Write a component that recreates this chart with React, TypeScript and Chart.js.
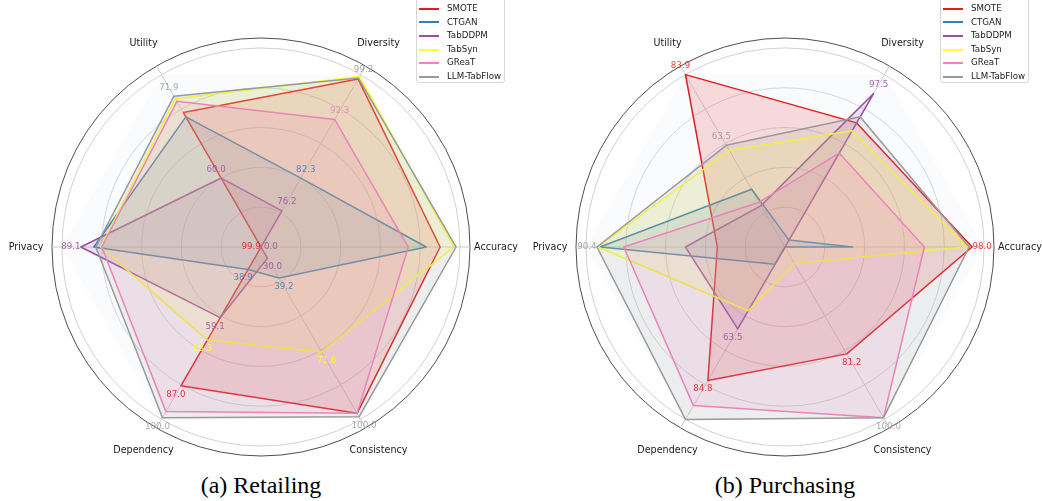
import React, { useEffect, useRef } from 'react';
import { Chart, registerables } from 'chart.js';

Chart.register(...registerables);

// Axes in clockwise order starting at the right (Accuracy)
const axes = ['Accuracy', 'Consistency', 'Dependency', 'Privacy', 'Utility', 'Diversity'];
const methods = ['SMOTE', 'CTGAN', 'TabDDPM', 'TabSyn', 'GReaT', 'LLM-TabFlow'];
const methodColors = ['#e41a1c', '#377eb8', '#984ea3', '#ffff33', '#f781bf', '#999999'];
const gridValues = [0, 0.2, 0.4, 0.6, 0.8, 1.0, 1.05];
const rMax = 1.05;

// (a) Retailing — normalised radial values, order: Accuracy, Consistency, Dependency, Privacy, Utility, Diversity
const retailSmote = [0.9, 0.965, 0.805, 0.0, 0.78, 0.975];
const retailCtgan = [0.83, 0.18, 0.13, 0.84, 0.755, 0.4];
const retailTabddpm = [0.0, 0.065, 0.41, 0.905, 0.4, 0.21];
const retailTabsyn = [0.97, 0.61, 0.54, 0.805, 0.86, 0.99];
const retailGreat = [0.74, 0.965, 0.955, 0.8, 0.845, 0.74];
const retailTabflow = [0.98, 0.985, 0.99, 0.83, 0.875, 0.98];

// (b) Purchasing
const purchSmote = [0.94, 0.62, 0.775, 0.34, 1.0, 0.72];
const purchCtgan = [0.34, 0.0, 0.1, 0.93, 0.335, 0.04];
const purchTabddpm = [0.0, 0.0, 0.475, 0.5, 0.24, 0.89];
const purchTabsyn = [0.915, 0.096, 0.37, 0.94, 0.56, 0.675];
const purchGreat = [0.7, 0.99, 0.92, 0.81, 0.26, 0.545];
const purchTabflow = [0.925, 0.99, 1.0, 0.945, 0.59, 0.755];

// Value annotations: [method, axis, raw value text]
const retailNotes: [string, string, string][] = [
  ['LLM-TabFlow', 'Utility', '71.9'],
  ['LLM-TabFlow', 'Diversity', '99.2'],
  ['GReaT', 'Diversity', '92.3'],
  ['CTGAN', 'Diversity', '82.3'],
  ['TabDDPM', 'Diversity', '76.2'],
  ['TabDDPM', 'Utility', '60.0'],
  ['SMOTE', 'Privacy', '99.9'],
  ['TabDDPM', 'Accuracy', '0.0'],
  ['TabDDPM', 'Privacy', '89.1'],
  ['TabDDPM', 'Consistency', '30.0'],
  ['CTGAN', 'Dependency', '38.9'],
  ['CTGAN', 'Consistency', '39.2'],
  ['TabDDPM', 'Dependency', '59.1'],
  ['TabSyn', 'Dependency', '68.3'],
  ['TabSyn', 'Consistency', '71.6'],
  ['SMOTE', 'Dependency', '87.0'],
  ['LLM-TabFlow', 'Dependency', '100.0'],
  ['LLM-TabFlow', 'Consistency', '100.0'],
];

const purchNotes: [string, string, string][] = [
  ['SMOTE', 'Utility', '83.9'],
  ['LLM-TabFlow', 'Utility', '63.5'],
  ['TabDDPM', 'Diversity', '97.5'],
  ['LLM-TabFlow', 'Privacy', '90.4'],
  ['SMOTE', 'Accuracy', '98.0'],
  ['TabDDPM', 'Dependency', '63.5'],
  ['SMOTE', 'Consistency', '81.2'],
  ['SMOTE', 'Dependency', '84.8'],
  ['LLM-TabFlow', 'Consistency', '100.0'],
];

const backgroundRing = [1, 1, 1, 1, 1, 1];

function rgba(hex: string, a: number) {
  const n = parseInt(hex.slice(1), 16);
  return `rgba(${(n >> 16) & 255},${(n >> 8) & 255},${n & 255},${a})`;
}

function makeAnnotate(notes: [string, string, string][]) {
  return {
    id: 'annotate',
    afterDatasetsDraw(chart: any) {
      const scale = chart.scales.r;
      const ctx = chart.ctx;
      ctx.save();
      ctx.textAlign = 'center';
      ctx.textBaseline = 'middle';
      ctx.font = '9.6px "DejaVu Sans"';
      ctx.fillStyle = '#1a1a1a';
      const outer = scale.getDistanceFromCenterForValue(rMax) + 26;
      axes.forEach((a, i) => {
        const p = scale.getPointPosition(i, outer);
        ctx.fillText(a, p.x, p.y);
      });
      ctx.font = '8.7px "DejaVu Sans"';
      notes.forEach(([m, a, text]) => {
        const di = methods.indexOf(m);
        const ai = axes.indexOf(a);
        const v = chart.data.datasets[di].data[ai] as number;
        const p = scale.getPointPosition(ai, scale.getDistanceFromCenterForValue(v + 0.05));
        ctx.fillStyle = rgba(methodColors[di], 0.85);
        ctx.fillText(text, p.x, p.y);
      });
      ctx.restore();
    },
  };
}

type PanelProps = {
  series: number[][];
  notes: [string, string, string][];
  left: number;
  width: number;
  padLeft: number;
  padRight: number;
  legendLeft: number;
  caption: string;
  captionCenter: number;
};

function RadarPanel(props: PanelProps) {
  const ref = useRef<HTMLCanvasElement | null>(null);
  useEffect(() => {
    if (!ref.current) return;
    const datasets: any[] = props.series.map((vals, i) => ({
      label: methods[i],
      data: vals,
      borderColor: methodColors[i],
      backgroundColor: rgba(methodColors[i], 0.15),
      borderWidth: 1.5,
      borderJoinStyle: 'round',
      pointRadius: 0,
      pointHoverRadius: 0,
      fill: 'origin',
      order: methods.length - i,
    }));
    datasets.push({
      label: 'bg',
      data: backgroundRing,
      borderWidth: 0,
      borderColor: 'rgba(0,0,0,0)',
      backgroundColor: 'rgba(225,234,247,0.2)',
      pointRadius: 0,
      fill: 'origin',
      order: 100,
    });
    const chart = new Chart(ref.current, {
      type: 'radar',
      data: { labels: axes, datasets },
      options: {
        responsive: false,
        animation: false,
        devicePixelRatio: 1,
        layout: { padding: { left: props.padLeft, right: props.padRight, top: 38, bottom: 14 } },
        elements: { line: { tension: 0 } },
        plugins: { legend: { display: false }, tooltip: { enabled: false } },
        scales: {
          r: {
            min: 0,
            max: rMax,
            startAngle: 90,
            afterBuildTicks: (scale: any) => {
              scale.ticks = gridValues.map((v) => ({ value: v }));
            },
            ticks: { display: false },
            pointLabels: { display: false },
            grid: {
              circular: true,
              color: (ctx: any) => (ctx.tick && ctx.tick.value >= 1.04 ? '#3a3a3a' : '#cccccc'),
              lineWidth: (ctx: any) => (ctx.tick && ctx.tick.value >= 1.04 ? 0.9 : 0.9),
            },
            angleLines: { color: '#c4c4c4', lineWidth: 0.9 },
          },
        },
      } as any,
      plugins: [makeAnnotate(props.notes)],
    });
    return () => chart.destroy();
  }, []);

  return (
    <>
      <canvas
        ref={ref}
        width={props.width}
        height={470}
        style={{ position: 'absolute', left: props.left, top: 0, width: props.width, height: 470 }}
      />
      <div
        style={{
          position: 'absolute',
          left: props.legendLeft,
          top: -3,
          width: 89,
          height: 86,
          border: '1px solid #d6d6d6',
          borderRadius: 3,
          background: 'rgba(255,255,255,0.85)',
          boxSizing: 'border-box',
          paddingTop: 4,
          fontFamily: '"DejaVu Sans"',
          fontSize: '8.7px',
          color: '#1a1a1a',
        }}
      >
        {methods.map((m, i) => (
          <div key={m} style={{ height: 13.6, display: 'flex', alignItems: 'center' }}>
            <span
              style={{
                display: 'inline-block',
                width: 20,
                height: 2,
                marginLeft: 2,
                marginRight: 8,
                background: methodColors[i],
              }}
            />
            <span style={{ lineHeight: '13.6px', whiteSpace: 'nowrap' }}>{m}</span>
          </div>
        ))}
      </div>
      <div
        style={{
          position: 'absolute',
          left: props.captionCenter - 150,
          width: 300,
          top: 471,
          textAlign: 'center',
          fontFamily: '"Liberation Serif", "Times New Roman", serif',
          fontSize: 24,
          lineHeight: '28px',
          color: '#000',
          whiteSpace: 'nowrap',
        }}
      >
        {props.caption}
      </div>
    </>
  );
}

export default function App() {
  return (
    <div
      style={{
        position: 'absolute',
        left: 0,
        top: 0,
        width: 1042,
        height: 501,
        overflow: 'hidden',
        background: '#ffffff',
      }}
    >
      <RadarPanel
        series={[retailSmote, retailCtgan, retailTabddpm, retailTabsyn, retailGreat, retailTabflow]}
        notes={retailNotes}
        left={0}
        width={522}
        padLeft={52}
        padRight={52}
        legendLeft={416}
        caption="(a) Retailing"
        captionCenter={261}
      />
      <RadarPanel
        series={[purchSmote, purchCtgan, purchTabddpm, purchTabsyn, purchGreat, purchTabflow]}
        notes={purchNotes}
        left={524}
        width={518}
        padLeft={52}
        padRight={48}
        legendLeft={940}
        caption="(b) Purchasing"
        captionCenter={785}
      />
    </div>
  );
}
